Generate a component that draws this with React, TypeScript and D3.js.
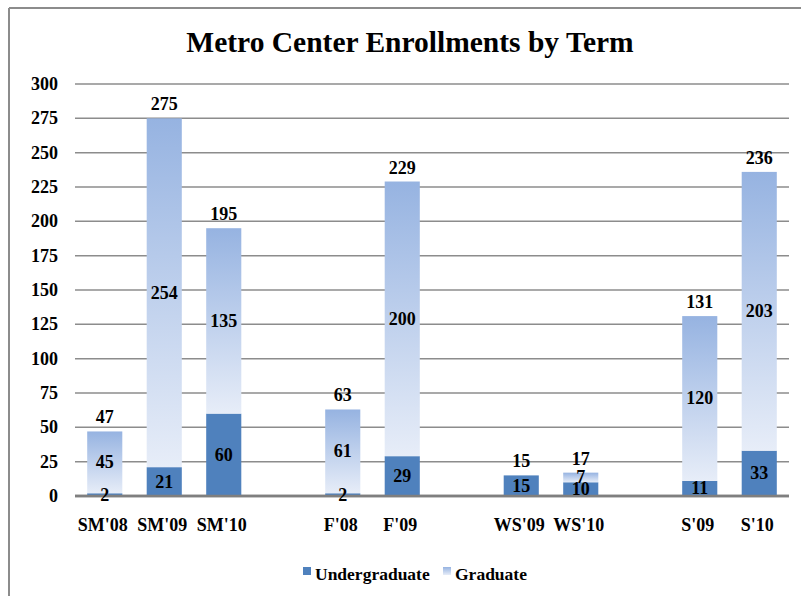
import React, { useRef, useEffect } from 'react';
import * as d3 from 'd3';

// Terms in chart order, with empty slots between the term groups
const slots = ["SM'08", "SM'09", "SM'10", 'gap-1', "F'08", "F'09", 'gap-2', "WS'09", "WS'10", 'gap-3', "S'09", "S'10"];
const terms = ["SM'08", "SM'09", "SM'10", "F'08", "F'09", "WS'09", "WS'10", "S'09", "S'10"];
const undergraduate = [2, 21, 60, 2, 29, 15, 10, 11, 33];
const graduate = [45, 254, 135, 61, 200, 0, 7, 120, 203];
const totals = [47, 275, 195, 63, 229, 15, 17, 131, 236];
const yTicks = [0, 25, 50, 75, 100, 125, 150, 175, 200, 225, 250, 275, 300];
const legendItems = ['Undergraduate', 'Graduate'];

const FONT = '"Liberation Serif", "Times New Roman", serif';
const UG_COLOR = '#4f81bd';

function App() {
  const svgRef = useRef<SVGSVGElement>(null);

  useEffect(() => {
    const svg = d3.select(svgRef.current);
    svg.selectAll('*').remove();

    const width = 801;
    const height = 596;
    const plot = { left: 75, right: 789, top: 84, bottom: 496 };

    // Gradient for graduate segments
    const defs = svg.append('defs');
    const grad = defs.append('linearGradient')
      .attr('id', 'grad-fill')
      .attr('x1', '0%').attr('y1', '0%')
      .attr('x2', '0%').attr('y2', '100%');
    grad.append('stop').attr('offset', '0%').attr('stop-color', '#96b3e1');
    grad.append('stop').attr('offset', '100%').attr('stop-color', '#e7edf8');

    // Frame
    svg.append('line')
      .attr('x1', 9).attr('x2', width).attr('y1', 8).attr('y2', 8)
      .attr('stroke', '#8c8c8c').attr('stroke-width', 2);
    svg.append('line')
      .attr('x1', 9).attr('x2', 9).attr('y1', 8).attr('y2', height)
      .attr('stroke', '#8c8c8c').attr('stroke-width', 2);

    // Title
    svg.append('text')
      .attr('x', 410)
      .attr('y', 52)
      .attr('text-anchor', 'middle')
      .style('font-family', FONT)
      .style('font-weight', 'bold')
      .style('font-size', '29.5px')
      .text('Metro Center Enrollments by Term');

    // Scales
    const x = d3.scaleBand()
      .domain(slots)
      .range([plot.left, plot.right])
      .paddingInner(0.41)
      .paddingOuter(0.205);

    const y = d3.scaleLinear()
      .domain([0, 300])
      .range([plot.bottom, plot.top]);

    // Gridlines
    svg.append('g')
      .selectAll('line')
      .data(yTicks)
      .enter().append('line')
      .attr('x1', plot.left)
      .attr('x2', plot.right)
      .attr('y1', d => y(d))
      .attr('y2', d => y(d))
      .attr('stroke', d => (d === 0 ? '#7f7f7f' : '#8c8c8c'))
      .attr('stroke-width', d => (d === 0 ? 2.5 : 1.5));

    // Y tick labels
    svg.append('g')
      .selectAll('text')
      .data(yTicks)
      .enter().append('text')
      .attr('x', 58)
      .attr('y', d => y(d) + 6)
      .attr('text-anchor', 'end')
      .style('font-family', FONT)
      .style('font-weight', 'bold')
      .style('font-size', '18px')
      .text(d => d);

    const rows = terms.map((t, i) => ({
      term: t,
      ug: undergraduate[i],
      gr: graduate[i],
      total: totals[i]
    }));

    const bw = x.bandwidth();

    // Undergraduate bars
    svg.append('g')
      .selectAll('rect')
      .data(rows)
      .enter().append('rect')
      .attr('x', d => x(d.term)!)
      .attr('width', bw)
      .attr('y', d => y(d.ug))
      .attr('height', d => y(0) - y(d.ug))
      .attr('fill', UG_COLOR);

    // Graduate bars (stacked)
    svg.append('g')
      .selectAll('rect')
      .data(rows.filter(d => d.gr > 0))
      .enter().append('rect')
      .attr('x', d => x(d.term)!)
      .attr('width', bw)
      .attr('y', d => y(d.ug + d.gr))
      .attr('height', d => y(d.ug) - y(d.ug + d.gr))
      .attr('fill', 'url(#grad-fill)');

    // Redraw zero line over bars
    svg.append('line')
      .attr('x1', plot.left).attr('x2', plot.right)
      .attr('y1', y(0)).attr('y2', y(0))
      .attr('stroke', '#7f7f7f').attr('stroke-width', 2.5);

    const labelStyle = (sel: any) => sel
      .attr('text-anchor', 'middle')
      .style('font-family', FONT)
      .style('font-weight', 'bold')
      .style('font-size', '18px')
      .style('fill', '#000');

    // Undergraduate labels
    svg.append('g')
      .selectAll('text')
      .data(rows)
      .enter().append('text')
      .call(labelStyle)
      .attr('x', d => x(d.term)! + bw / 2)
      .attr('y', d => y(d.ug / 2) + 6)
      .text(d => d.ug);

    // Graduate labels
    svg.append('g')
      .selectAll('text')
      .data(rows.filter(d => d.gr > 0))
      .enter().append('text')
      .call(labelStyle)
      .attr('x', d => x(d.term)! + bw / 2)
      .attr('y', d => y(d.ug + d.gr / 2) + 6)
      .text(d => d.gr);

    // Total labels
    svg.append('g')
      .selectAll('text')
      .data(rows)
      .enter().append('text')
      .call(labelStyle)
      .attr('x', d => x(d.term)! + bw / 2)
      .attr('y', d => y(d.total) - 8)
      .text(d => d.total);

    // Category labels
    svg.append('g')
      .selectAll('text')
      .data(terms)
      .enter().append('text')
      .call(labelStyle)
      .attr('x', d => x(d)! + bw / 2 - 2)
      .attr('y', 531)
      .text(d => d);

    // Legend
    const legendX = [303, 443];
    const legend = svg.append('g')
      .selectAll('g')
      .data(legendItems)
      .enter().append('g')
      .attr('transform', (d, i) => `translate(${legendX[i]},567)`);

    legend.append('rect')
      .attr('width', 8)
      .attr('height', 8)
      .attr('fill', (d, i) => (i === 0 ? UG_COLOR : 'url(#grad-fill)'));

    legend.append('text')
      .attr('x', 12)
      .attr('y', 13)
      .style('font-family', FONT)
      .style('font-weight', 'bold')
      .style('font-size', '17.5px')
      .text(d => d);
  }, []);

  return (
    <svg
      ref={svgRef}
      width={801}
      height={596}
      style={{ position: 'absolute', left: 0, top: 0, background: '#fff' }}
    />
  );
}

export default App;
